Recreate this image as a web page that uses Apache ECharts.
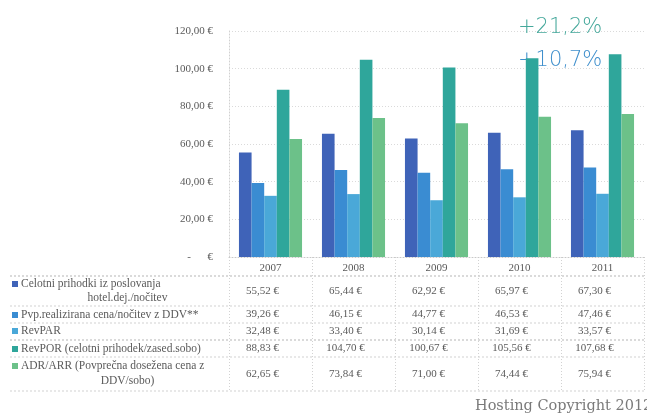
<!DOCTYPE html>
<html>
<head>
<meta charset="utf-8">
<script src="https://cdn.jsdelivr.net/npm/echarts@6/dist/echarts.min.js"></script>
<style>
  html, body { margin: 0; padding: 0; background: #ffffff; }
  #chart { width: 647px; height: 416px; }
</style>
</head>
<body>
<div id="chart"></div>
<script>
// Hotel revenue indicators per year (EUR)
const years = ['2007', '2008', '2009', '2010', '2011'];

const celotniPrihodki = [55.52, 65.44, 62.92, 65.97, 67.30];
const realiziranaCena = [39.26, 46.15, 44.77, 46.53, 47.46];
const revPAR          = [32.48, 33.40, 30.14, 31.69, 33.57];
const revPOR          = [88.83, 104.70, 100.67, 105.56, 107.68];
const adrArr          = [62.65, 73.84, 71.00, 74.44, 75.94];

const rowLabels = [
  ['Celotni prihodki iz poslovanja', 'hotel.dej./nočitev'],
  ['Pvp.realizirana cena/nočitev z DDV**'],
  ['RevPAR'],
  ['RevPOR (celotni prihodek/zased.sobo)'],
  ['ADR/ARR (Povprečna dosežena cena z', 'DDV/sobo)']
];

const yTicks = [0, 20, 40, 60, 80, 100, 120];
const growthNotes = ['+21,2%', '+10,7%'];
const footerText = 'Hosting Copyright 2012';

const seriesValues = [celotniPrihodki, realiziranaCena, revPAR, revPOR, adrArr];
const colors = ['#3f63b8', '#3a8cd2', '#4aa8d8', '#2fa69b', '#6cc189'];

const SERIF = '"Liberation Serif", "DejaVu Serif", serif';
const TEXT = '#5a5a5a';

function euro(v) {
  return v.toFixed(2).replace('.', ',') + ' €';
}

const GRID = { left: 229, right: 3, top: 31, bottom: 159 };
const chart = echarts.init(document.getElementById('chart'), null, { renderer: 'canvas' });

chart.setOption({
  animation: false,
  backgroundColor: '#ffffff',
  color: colors,
  grid: GRID,
  xAxis: {
    type: 'category',
    data: years,
    axisLine: { lineStyle: { color: '#c8c8c8', type: [1, 2] } },
    axisTick: { show: false },
    axisLabel: { color: TEXT, fontFamily: SERIF, fontSize: 11, margin: 6 },
    splitLine: { show: false }
  },
  yAxis: {
    type: 'value',
    min: yTicks[0],
    max: yTicks[yTicks.length - 1],
    interval: yTicks[1] - yTicks[0],
    axisLine: { show: true, lineStyle: { color: '#d0d0d0', type: [1, 2] } },
    axisTick: { show: false },
    splitLine: { lineStyle: { color: '#dadada', type: [1, 2] } },
    axisLabel: {
      color: TEXT, fontFamily: SERIF, fontSize: 11, margin: 16,
      formatter: v => v === 0 ? '-      €' : euro(v)
    }
  },
  series: seriesValues.map((vals, i) => ({
    type: 'bar',
    name: rowLabels[i].join(' '),
    data: vals,
    barGap: '0%',
    barCategoryGap: '24%',
    itemStyle: { color: colors[i] }
  }))
});

// Data table under the plot, aligned with the category columns
const rowEdges = [276, 306, 323, 340, 357, 391];
const rowLineY = [[284, 298], [315], [331], [349], [366, 381]];
const leftX = 10, rightX = 644;
const graphics = [];

const colCenters = years.map(y => chart.convertToPixel({ xAxisIndex: 0 }, y));
const colW = colCenters.length > 1 ? colCenters[1] - colCenters[0] : 83;
const colEdges = [colCenters[0] - colW / 2].concat(colCenters.map(c => c + colW / 2));
const zeroY = chart.convertToPixel({ yAxisIndex: 0 }, 0);

rowEdges.forEach((y, i) => {
  graphics.push({
    type: 'line', silent: true,
    shape: { x1: leftX, y1: y, x2: rightX, y2: y },
    style: { stroke: (i === 0 || i === 3) ? '#b5b5b5' : '#d2d2d2', lineWidth: 1, lineDash: [2, 2] }
  });
});
colEdges.forEach(x => {
  graphics.push({
    type: 'line', silent: true,
    shape: { x1: Math.round(x) + 0.5, y1: zeroY, x2: Math.round(x) + 0.5, y2: rowEdges[rowEdges.length - 1] },
    style: { stroke: '#d2d2d2', lineWidth: 1, lineDash: [1, 2] }
  });
});

rowLabels.forEach((lines, r) => {
  const ys = rowLineY[r];
  // legend key
  graphics.push({
    type: 'rect', silent: true,
    shape: { x: 12, y: ys[0] - 3, width: 6, height: 6 },
    style: { fill: colors[r] }
  });
  lines.forEach((txt, k) => {
    graphics.push({
      type: 'text', silent: true,
      x: k === 0 ? 21 : (leftX + colEdges[0]) / 2 + 8,
      y: ys[k],
      style: {
        text: txt, fill: TEXT, font: '11.5px ' + SERIF,
        textAlign: k === 0 ? 'left' : 'center', textVerticalAlign: 'middle'
      }
    });
  });
  const valueY = (rowEdges[r] + rowEdges[r + 1]) / 2;
  seriesValues[r].forEach((v, c) => {
    graphics.push({
      type: 'text', silent: true,
      x: colCenters[c] - 8, y: valueY,
      style: {
        text: euro(v), fill: TEXT, font: '11px ' + SERIF,
        textAlign: 'center', textVerticalAlign: 'middle'
      }
    });
  });
});

// Growth notes in the upper right
const NOTE_FONT = '200 21px "DejaVu Sans", "Noto Sans", sans-serif';
graphics.push({
  type: 'text', silent: true, x: 518, y: 28,
  style: { text: growthNotes[0], fill: '#45a89b', font: NOTE_FONT, textVerticalAlign: 'middle' }
});
graphics.push({
  type: 'text', silent: true, x: 518, y: 61,
  style: { text: growthNotes[1], fill: '#3f8fcc', font: NOTE_FONT, textVerticalAlign: 'middle' }
});

graphics.push({
  type: 'text', silent: true, x: 475, y: 406,
  style: { text: footerText, fill: '#7a7a7a', font: '14.5px "DejaVu Serif", serif', textVerticalAlign: 'middle' }
});

chart.setOption({ graphic: graphics });
</script>
</body>
</html>
